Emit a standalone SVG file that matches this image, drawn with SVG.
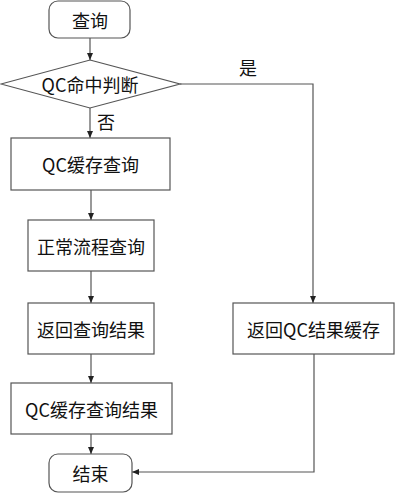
<svg xmlns="http://www.w3.org/2000/svg" width="395" height="494" viewBox="0 0 395 494">
<style>
.n{fill:#fff;stroke:#555;stroke-width:1.2}
.t{font-family:"Noto Sans CJK SC","Liberation Sans",sans-serif;font-size:18px;fill:#111;text-anchor:middle;dominant-baseline:central}
.c{fill:none;stroke:#555;stroke-width:1.2}
</style>
<defs>
<marker id="a" markerWidth="8" markerHeight="8" refX="7" refY="4" orient="auto" markerUnits="userSpaceOnUse">
<path d="M0,1 L7,4 L0,7 Z" fill="#222"/>
</marker>
</defs>
<g id="connectors">
<line class="c" x1="90" y1="38" x2="90" y2="60" marker-end="url(#a)"/>
<line class="c" x1="90" y1="108" x2="90" y2="138" marker-end="url(#a)"/>
<line class="c" x1="91" y1="190" x2="91" y2="220" marker-end="url(#a)"/>
<line class="c" x1="91" y1="271" x2="91" y2="303" marker-end="url(#a)"/>
<line class="c" x1="91" y1="354" x2="91" y2="383" marker-end="url(#a)"/>
<line class="c" x1="91" y1="434" x2="91" y2="454" marker-end="url(#a)"/>
<polyline class="c" points="180,84 313,84 313,303" marker-end="url(#a)"/>
<polyline class="c" points="314,354 314,472 132,472" marker-end="url(#a)"/>
<text class="t" x="106" y="121">否</text>
<text class="t" x="248" y="67">是</text>
</g>
<g id="start">
<rect class="n" x="49" y="1" width="81" height="37" rx="9"/>
<text class="t" x="90" y="19.5">查询</text>
</g>
<g id="decision">
<polygon class="n" points="90,60 180,84 90,108 1,84"/>
<text class="t" x="90" y="84">QC命中判断</text>
</g>
<g id="qcquery">
<rect class="n" x="11" y="138" width="159" height="52"/>
<text class="t" x="90.5" y="164">QC缓存查询</text>
</g>
<g id="normal">
<rect class="n" x="28" y="220" width="126" height="51"/>
<text class="t" x="91" y="245.5">正常流程查询</text>
</g>
<g id="return">
<rect class="n" x="28" y="303" width="126" height="51"/>
<text class="t" x="91" y="328.5">返回查询结果</text>
</g>
<g id="qccache">
<rect class="n" x="11" y="383" width="161" height="51"/>
<text class="t" x="91.5" y="408.5">QC缓存查询结果</text>
</g>
<g id="end">
<rect class="n" x="49" y="454" width="83" height="38" rx="9"/>
<text class="t" x="90.5" y="473">结束</text>
</g>
<g id="returnqc">
<rect class="n" x="233" y="303" width="161" height="51"/>
<text class="t" x="313.5" y="328.5">返回QC结果缓存</text>
</g>
</svg>
